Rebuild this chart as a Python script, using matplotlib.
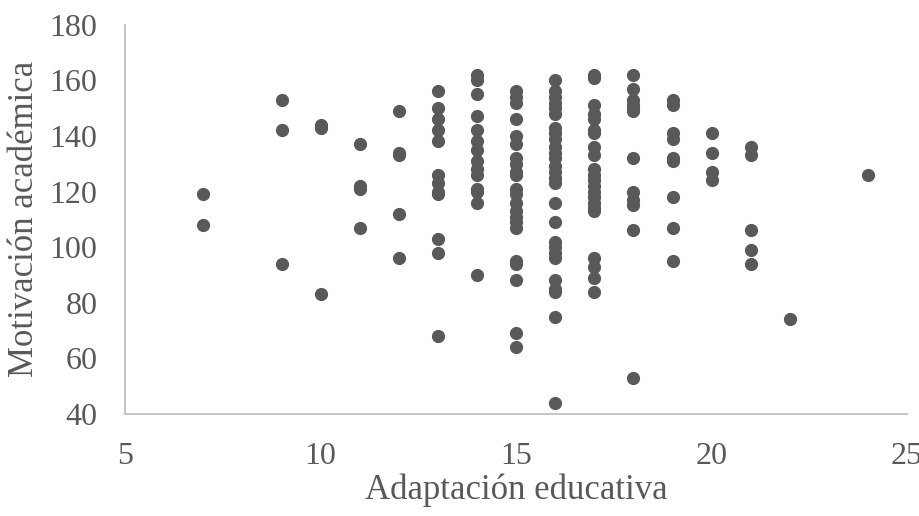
import matplotlib
matplotlib.use('Agg')
import matplotlib.pyplot as plt

# values, one list per x column
columns = {
    7: [119, 108],
    9: [153, 142, 94],
    10: [144, 143, 83],
    11: [137, 122, 121, 107],
    12: [149, 134, 133, 112, 96],
    13: [156, 150, 146, 142, 138, 126, 123, 120, 119, 103, 98, 68],
    14: [162, 160, 155, 147, 142, 138, 135, 131, 128, 126, 121, 120, 116, 90],
    15: [156, 154, 152, 146, 140, 137, 132, 130, 127, 126, 121, 119, 116,
         113, 111, 109, 107, 95, 94, 88, 69, 64],
    16: [160, 156, 154, 152, 150, 148, 143, 141, 139, 136, 134, 132, 129,
         127, 125, 123, 116, 109, 102, 100, 98, 96, 88, 85, 84, 75, 44],
    17: [162, 161, 151, 148, 146, 142, 141, 136, 133, 128, 126, 124, 122,
         120, 118, 116, 114, 113, 96, 93, 89, 84],
    18: [162, 157, 153, 151, 150, 149, 132, 120, 117, 115, 106, 53],
    19: [153, 151, 141, 139, 132, 131, 118, 107, 95],
    20: [141, 134, 127, 124],
    21: [136, 133, 106, 99, 94],
    22: [74],
    24: [126],
}

x_ticks = [5, 10, 15, 20, 25]
y_ticks = [40, 60, 80, 100, 120, 140, 160, 180]

adaptacion = []
motivacion = []
for k, vals in columns.items():
    for v in vals:
        adaptacion.append(k)
        motivacion.append(v)

plt.rcParams['font.family'] = ['Liberation Serif', 'DejaVu Serif']
text_col = '#595959'

fig = plt.figure(figsize=(9.2, 5.16), dpi=100)
ax = fig.add_axes([0.136, 0.198, 0.850, 0.754])
ax.scatter(adaptacion, motivacion, s=72, color='#595959', zorder=3,
           clip_on=False)

ax.set_xlim(5, 25)
ax.set_ylim(40, 180)
ax.set_xticks(x_ticks)
ax.set_yticks(y_ticks)
ax.tick_params(length=0, labelsize=23, colors=text_col)
ax.tick_params(axis='y', pad=20)
ax.tick_params(axis='x', pad=20)

for side in ['top', 'right']:
    ax.spines[side].set_visible(False)
for side in ['bottom', 'left']:
    ax.spines[side].set_color('#bfbfbf')
    ax.spines[side].set_linewidth(1.3)

ax.set_xlabel('Adaptación educativa', fontsize=25, color=text_col, labelpad=2)
ax.set_ylabel('Motivación académica', fontsize=25, color=text_col, labelpad=6)

fig.savefig('out.png', dpi=100)
